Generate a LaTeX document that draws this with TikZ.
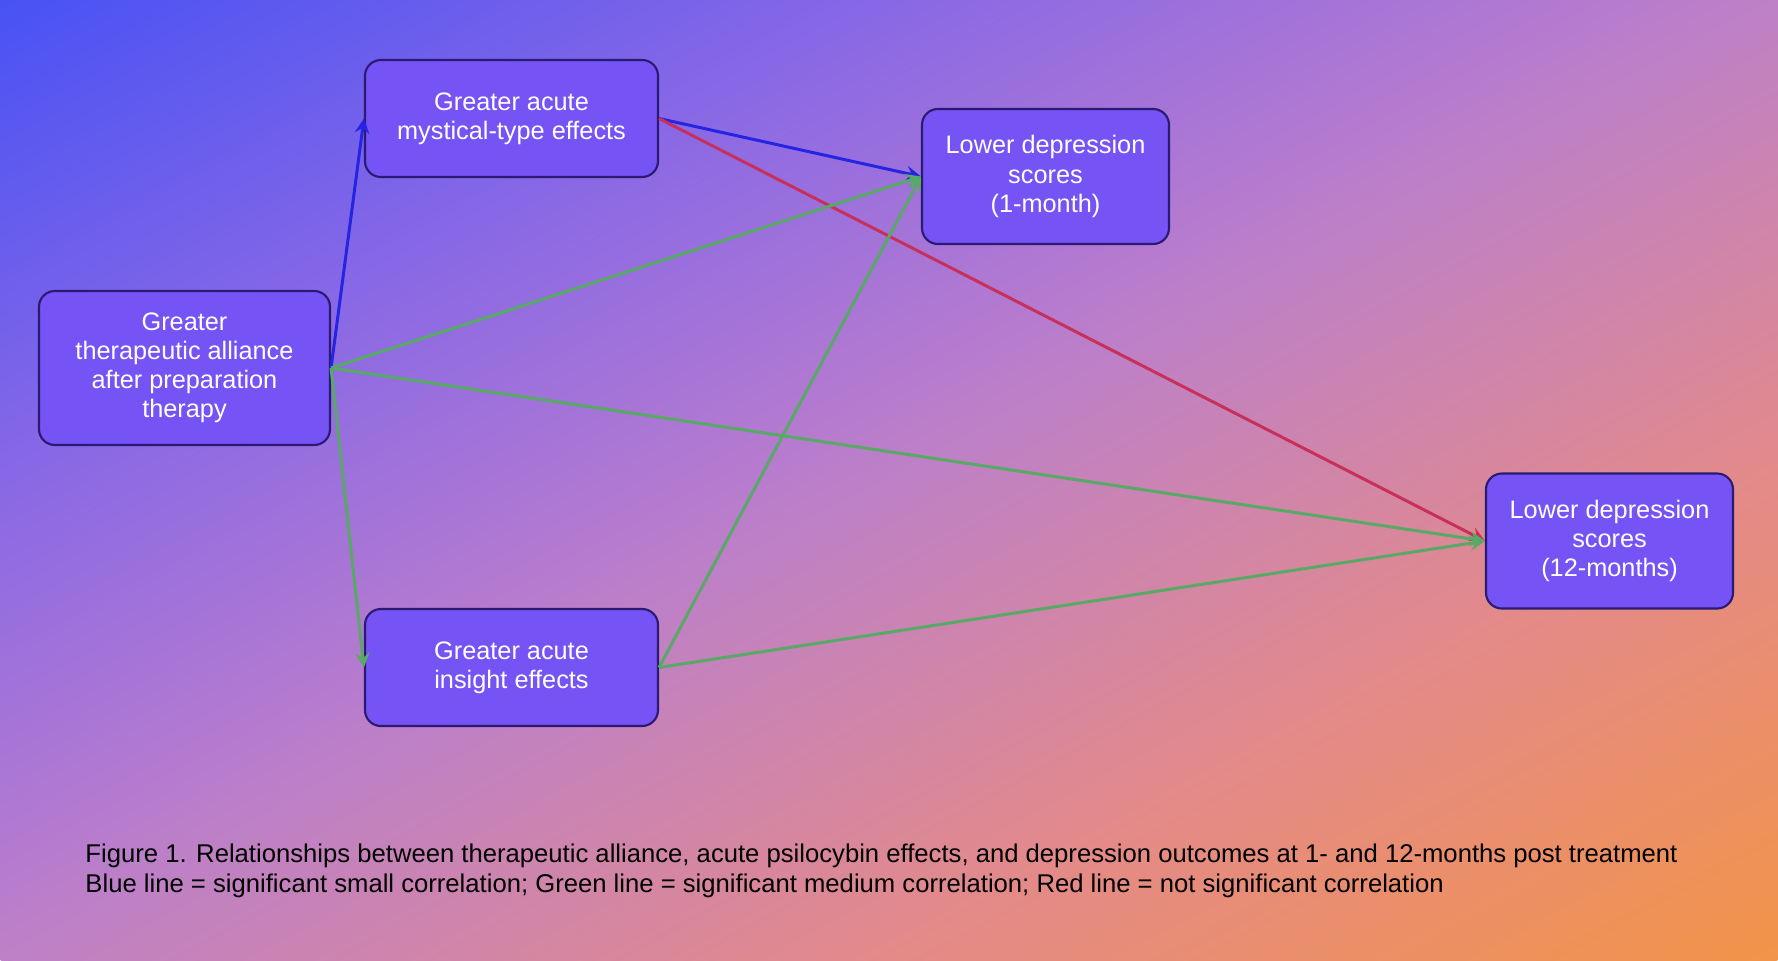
\documentclass[tikz,border=0pt]{standalone}
\usepackage{fontspec}
\setmainfont{Liberation Sans}
\usetikzlibrary{arrows,shapes}
\definecolor{bgblue}{HTML}{4852F4}
\definecolor{bgviolet}{HTML}{8868E6}
\definecolor{bglilac}{HTML}{B47AD0}
\definecolor{bgmauve}{HTML}{BE80C6}
\definecolor{bgsalmon}{HTML}{E48A88}
\definecolor{bgorange}{HTML}{F29448}
\definecolor{boxfill}{HTML}{7553F5}
\definecolor{boxline}{HTML}{2A1A72}
\definecolor{lnblue}{HTML}{2424E2}
\definecolor{lngreen}{HTML}{58A866}
\definecolor{lnred}{HTML}{C8305C}
\pgfdeclarehorizontalshading{bgshade}{100bp}{color(0bp)=(bgblue); color(25bp)=(bgblue); color(37.5bp)=(bgviolet); color(47.3bp)=(bglilac); color(50bp)=(bgmauve); color(62.5bp)=(bgsalmon); color(75bp)=(bgorange); color(100bp)=(bgorange)}
\tikzstyle{obox}=[rectangle,rounded corners=4.5pt,draw=boxline,line width=0.6pt,fill=boxfill,text=white,align=center,font=\fontsize{7.2}{8.3}\selectfont,inner sep=0pt]
\tikzstyle{dgraph}=[->, >=stealth, line width=0.85pt]
\begin{document}
\begin{tikzpicture}[dgraph]
\useasboundingbox (0,0) rectangle (17.78,9.6);
\begin{scope}[transform canvas={xscale=1.852083}]
\begin{scope}[transform canvas={shift={(4.8,4.8)},rotate=-45}]
\shade[shading=bgshade] (-6.7882,-6.7882) rectangle (6.7882,6.7882);
\end{scope}
\end{scope}
\node[obox,minimum width=2.91cm,minimum height=1.54cm] (A) at (1.845,5.92) {Greater\\therapeutic alliance\\after preparation\\therapy};
\node[obox,minimum width=2.93cm,minimum height=1.17cm] (M) at (5.115,8.415) {Greater acute\\mystical-type effects};
\node[obox,minimum width=2.93cm,minimum height=1.17cm] (I) at (5.115,2.925) {Greater acute\\insight effects};
\node[obox,minimum width=2.47cm,minimum height=1.35cm] (D1) at (10.455,7.835) {Lower depression\\scores\\(1-month)};
\node[obox,minimum width=2.47cm,minimum height=1.35cm] (D12) at (16.095,4.19) {Lower depression\\scores\\(12-months)};
\draw[color=lnblue](A.east)--(M.west);\draw[color=lnblue](M.east)--(D1.west);
\draw[color=lnred](M.east)--(D12.west);
\draw[color=lngreen](A.east)--(D1.west);\draw[color=lngreen](A.east)--(D12.west);\draw[color=lngreen](A.east)--(I.west);
\draw[color=lngreen](I.east)--(D1.west);\draw[color=lngreen](I.east)--(D12.west);
\node[anchor=west,align=left,font=\fontsize{7.3}{8.4}\selectfont,inner sep=0pt] (cap) at (0.84,0.89) {Figure 1. Relationships between therapeutic alliance, acute psilocybin effects, and depression outcomes at 1- and 12-months post treatment\\Blue line = significant small correlation; Green line = significant medium correlation; Red line = not significant correlation};
\end{tikzpicture}
\end{document}
